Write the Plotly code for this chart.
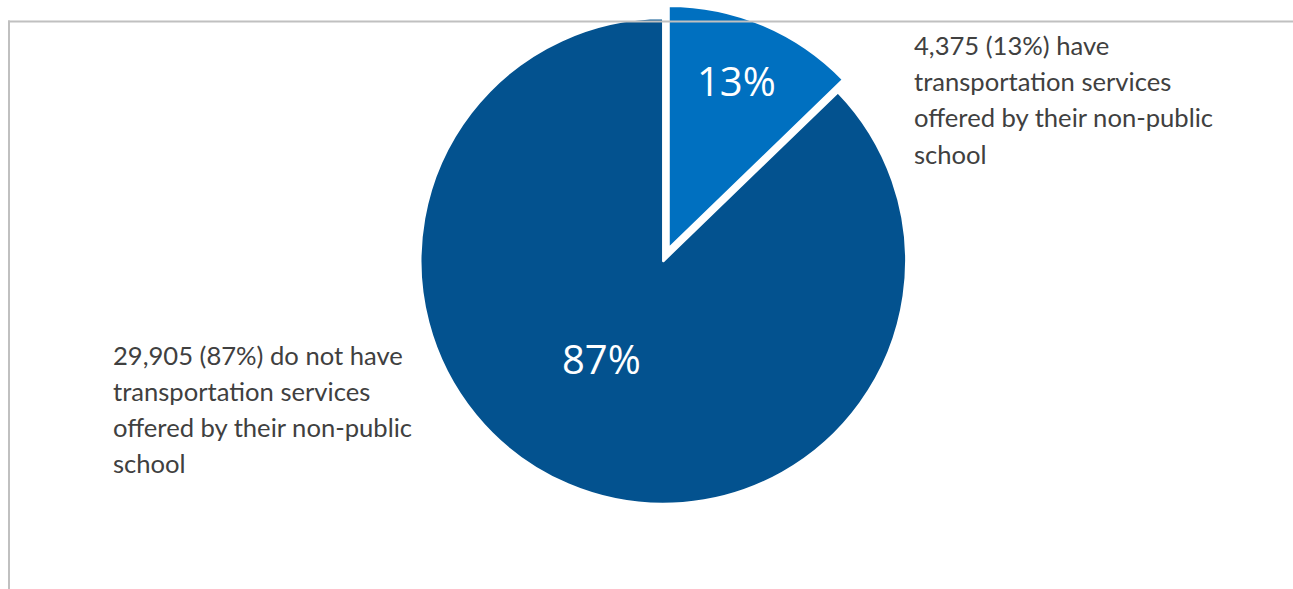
import plotly.graph_objects as go

labels = ["have transportation services", "do not have transportation services"]
values = [4375, 29905]
colors = ["#0070C0", "#03528F"]
pulls = [0.055, 0.0]

right_lines = ["4,375 (13%) have", "transportation services", "offered by their non-public", "school"]
left_lines = ["29,905 (87%) do not have", "transportation services", "offered by their non-public", "school"]

W, H = 1293, 589

def px(x):
    return x / W

def py(y):
    return 1 - y / H

# pie box geometry (screen pixels)
cx, cy, r = 663.3, 261.0, 243.0
half = min(r * (1 + max(pulls)), cy)

fig = go.Figure()
fig.add_trace(go.Pie(
    labels=labels,
    values=values,
    sort=False,
    direction="clockwise",
    rotation=0,
    pull=pulls,
    marker=dict(colors=colors, line=dict(color="white", width=2.5)),
    textinfo="none",
    hoverinfo="label+value+percent",
    showlegend=False,
    domain=dict(x=[px(cx - half), px(cx + half)], y=[max(0, py(cy + half)), min(1, py(cy - half))]),
))

total = sum(values)
pct_text = [f"{round(100 * v / total)}%" for v in values]
pct_pos = [(736, 80.5), (601, 358)]

annotations = []
for t, (x, y) in zip(pct_text, pct_pos):
    annotations.append(dict(text=t, x=px(x), y=py(y), xref="paper", yref="paper",
                            xanchor="center", yanchor="middle", showarrow=False,
                            font=dict(family="Open Sans", size=40, color="white")))
for i, t in enumerate(right_lines):
    annotations.append(dict(text=t, x=px(911.5), y=py(45 + i * 36.2), xref="paper", yref="paper",
                            xanchor="left", yanchor="middle", showarrow=False,
                            font=dict(family="Lato", size=25.6, color="#404040")))
for i, t in enumerate(left_lines):
    annotations.append(dict(text=t, x=px(111), y=py(354.5 + i * 36.2), xref="paper", yref="paper",
                            xanchor="left", yanchor="middle", showarrow=False,
                            font=dict(family="Lato", size=25.6, color="#404040")))

shapes = [
    dict(type="line", xref="paper", yref="paper", x0=px(8), x1=1, y0=py(21.5), y1=py(21.5),
         line=dict(color="#C0C0C0", width=2), layer="above"),
    dict(type="line", xref="paper", yref="paper", x0=px(9), x1=px(9), y0=py(20.5), y1=0,
         line=dict(color="#C0C0C0", width=2), layer="above"),
]

fig.update_layout(
    width=W, height=H,
    margin=dict(l=0, r=0, t=0, b=0),
    paper_bgcolor="white",
    plot_bgcolor="white",
    annotations=annotations,
    shapes=shapes,
)

fig.write_html(
    "out.html",
    config={"displayModeBar": False},
    post_script="document.body.style.margin='0';document.body.style.overflow='hidden';",
)
